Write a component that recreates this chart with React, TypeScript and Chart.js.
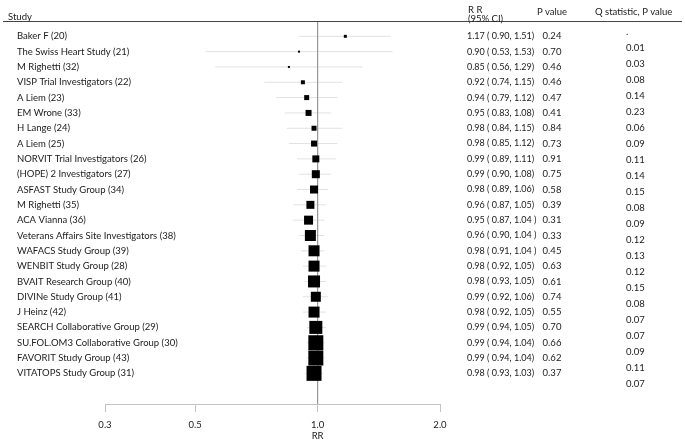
import { useEffect, useRef } from 'react';
import { Chart, registerables } from 'chart.js';

Chart.register(...registerables);

const studies = [
  'Baker F (20)',
  'The Swiss Heart Study (21)',
  'M Righetti (32)',
  'VISP Trial Investigators (22)',
  'A Liem (23)',
  'EM Wrone (33)',
  'H Lange (24)',
  'A Liem (25)',
  'NORVIT Trial Investigators (26)',
  '(HOPE) 2 Investigators (27)',
  'ASFAST Study Group (34)',
  'M Righetti (35)',
  'ACA Vianna (36)',
  'Veterans Affairs Site Investigators (38)',
  'WAFACS Study Group (39)',
  'WENBIT Study Group (28)',
  'BVAIT Research Group (40)',
  'DIVINe Study Group (41)',
  'J Heinz (42)',
  'SEARCH Collaborative Group (29)',
  'SU.FOL.OM3 Collaborative Group (30)',
  'FAVORIT Study Group (43)',
  'VITATOPS Study Group (31)',
];
const rr = [1.17, 0.9, 0.85, 0.92, 0.94, 0.95, 0.98, 0.98, 0.99, 0.99, 0.98, 0.96, 0.95, 0.96, 0.98, 0.98, 0.98, 0.99, 0.98, 0.99, 0.99, 0.99, 0.98];
const lower = [0.9, 0.53, 0.56, 0.74, 0.79, 0.83, 0.84, 0.85, 0.89, 0.9, 0.89, 0.87, 0.87, 0.9, 0.91, 0.92, 0.93, 0.92, 0.92, 0.94, 0.94, 0.94, 0.93];
const upper = [1.51, 1.53, 1.29, 1.15, 1.12, 1.08, 1.15, 1.12, 1.11, 1.08, 1.06, 1.05, 1.04, 1.04, 1.04, 1.05, 1.05, 1.06, 1.05, 1.05, 1.04, 1.04, 1.03];
const spacedClose = [false, false, false, false, false, false, false, false, false, false, false, false, true, true, true, false, false, false, false, false, false, false, false];
const pValues = ['0.24', '0.70', '0.46', '0.46', '0.47', '0.41', '0.84', '0.73', '0.91', '0.75', '0.58', '0.39', '0.31', '0.33', '0.45', '0.63', '0.61', '0.74', '0.55', '0.70', '0.66', '0.62', '0.37'];
const qValues = ['.', '0.01', '0.03', '0.08', '0.14', '0.23', '0.06', '0.09', '0.11', '0.14', '0.15', '0.08', '0.09', '0.12', '0.13', '0.12', '0.15', '0.08', '0.07', '0.07', '0.09', '0.11', '0.07'];
const weights = [3, 2, 2, 4, 5, 6, 5, 6, 7, 8, 8, 8, 9, 11, 11, 11, 12, 10, 11, 13, 15, 15, 15];
const xTicks = [0.3, 0.5, 1.0, 2.0];
const xTickLabels = ['0.3', '0.5', '1.0', '2.0'];

const FONT = 'Lato';
const TEXT = '#1a1a1a';

export default function App() {
  const ref = useRef<HTMLCanvasElement>(null);

  useEffect(() => {
    const canvas = ref.current;
    if (!canvas) return;

    const ciData: any[] = [];
    rr.forEach((_, i) => {
      ciData.push({ x: lower[i], y: i });
      ciData.push({ x: upper[i], y: i });
      ciData.push({ x: null, y: null });
    });

    const textPlugin = {
      id: 'forestText',
      afterDraw(chart: any) {
        const ctx = chart.ctx;
        const ys = chart.scales.y;
        const xs = chart.scales.x;
        ctx.save();
        // header line
        ctx.strokeStyle = '#444';
        ctx.lineWidth = 1.2;
        ctx.beginPath();
        ctx.moveTo(3, chart.chartArea.top + 0.5);
        ctx.lineTo(682, chart.chartArea.top + 0.5);
        ctx.stroke();

        ctx.fillStyle = TEXT;
        ctx.font = `9.5px ${FONT}`;
        ctx.textBaseline = 'middle';
        ctx.textAlign = 'left';
        ctx.fillText('Study', 8, 17);
        ctx.fillText('R R', 468, 10);
        ctx.fillText('(95% CI)', 468, 19);
        ctx.textAlign = 'center';
        ctx.fillText('P value', 552, 12);
        ctx.textAlign = 'left';
        ctx.fillText('Q statistic, P value', 595, 12);

        studies.forEach((s, i) => {
          const y = ys.getPixelForValue(i);
          ctx.font = `9.5px ${FONT}`;
          ctx.textAlign = 'left';
          ctx.fillText(s, 17, y);
          ctx.font = `9px ${FONT}`;
          const close = spacedClose[i] ? ' )' : ')';
          ctx.fillText(`${rr[i].toFixed(2)} ( ${lower[i].toFixed(2)}, ${upper[i].toFixed(2)}${close}`, 467, y);
          ctx.textAlign = 'center';
          ctx.font = `9.5px ${FONT}`;
          ctx.fillText(pValues[i], 552, y);
        });

        const qTop = ys.getPixelForValue(-0.27);
        const qBottom = ys.getPixelForValue(qValues.length - 1 + 0.72);
        ctx.textAlign = 'left';
        qValues.forEach((q, i) => {
          const y = qTop + ((qBottom - qTop) * i) / (qValues.length - 1);
          ctx.fillText(q, 626, y);
        });

        ctx.textAlign = 'center';
        ctx.fillText('RR', xs.getPixelForValue(1), 436);
        ctx.restore();
      },
    };

    const chart = new Chart(canvas, {
      type: 'scatter',
      data: {
        datasets: [
          {
            type: 'scatter',
            data: rr.map((v, i) => ({ x: v, y: i })),
            pointStyle: 'rect',
            pointRadius: weights.map((w) => w / Math.SQRT2),
            pointHoverRadius: weights.map((w) => w / Math.SQRT2),
            backgroundColor: '#000',
            borderWidth: 0,
          } as any,
          {
            type: 'line',
            data: [
              { x: 1, y: -1 },
              { x: 1, y: 24 },
            ],
            borderColor: '#9a9a9a',
            borderWidth: 1,
            pointRadius: 0,
          } as any,
          {
            type: 'line',
            data: ciData,
            borderColor: '#e2e2e2',
            borderWidth: 1,
            pointRadius: 0,
            spanGaps: false,
          } as any,
        ],
      },
      options: {
        animation: false,
        responsive: false,
        maintainAspectRatio: false,
        layout: { padding: { left: 105, right: 245, top: 21, bottom: 0 } },
        plugins: { legend: { display: false }, tooltip: { enabled: false } },
        scales: {
          x: {
            type: 'logarithmic',
            min: 0.3,
            max: 2,
            afterBuildTicks: (s: any) => {
              s.ticks = xTicks.map((v) => ({ value: v }));
            },
            afterFit: (s: any) => {
              s.height = 39;
            },
            ticks: {
              autoSkip: false,
              maxRotation: 0,
              padding: 7,
              color: TEXT,
              font: { family: FONT, size: 9.5 },
              callback: (v: any) => {
                const idx = xTicks.indexOf(Number(v));
                return idx >= 0 ? xTickLabels[idx] : '';
              },
            },
            grid: { display: true, drawOnChartArea: false, drawTicks: true, tickLength: 8, color: '#c4c4c4' },
            border: { display: true, color: '#c4c4c4' },
          },
          y: { type: 'linear', min: -1, max: 24, reverse: true, display: false },
        },
      } as any,
      plugins: [textPlugin],
    });

    return () => chart.destroy();
  }, []);

  return (
    <div style={{ position: 'fixed', left: 0, top: 0, width: 685, height: 443, background: '#fff' }}>
      <canvas ref={ref} width={685} height={443} style={{ width: 685, height: 443 }} />
    </div>
  );
}
